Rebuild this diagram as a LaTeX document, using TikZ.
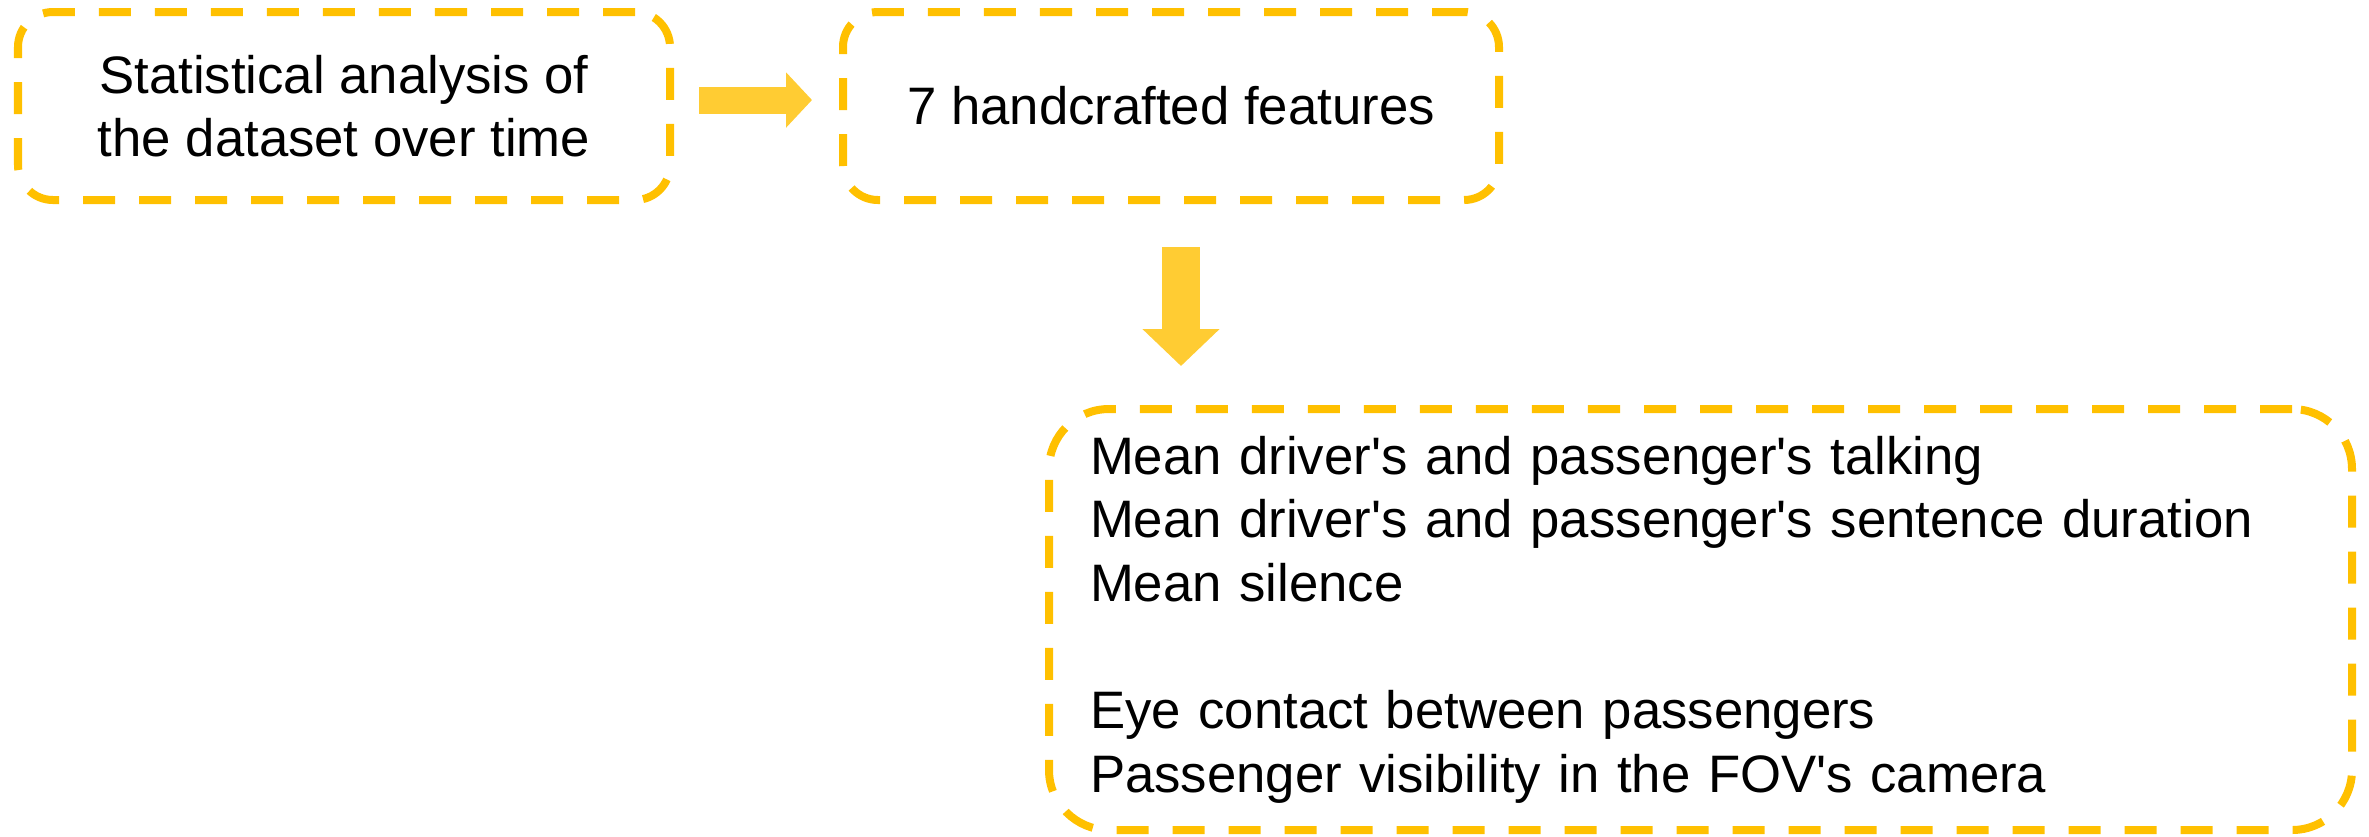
\documentclass[tikz,border=0pt]{standalone}
\usepackage{fontspec}
\setmainfont{Liberation Sans}
\usetikzlibrary{arrows.meta}

\definecolor{dashgold}{RGB}{255,192,0}
\definecolor{arrowgold}{RGB}{255,204,51}

\tikzset{
	dashbox/.style={draw=dashgold, line width=0.08cm, dash pattern=on 0.32cm off 0.24cm,
		rounded corners=0.35cm, outer sep=0pt, inner sep=0pt,
		font=\fontsize{15}{18.1}\selectfont},
	blockarrow/.style={draw=arrowgold, line width=0.27cm,
		-{Triangle[width=0.54cm, length=0.26cm]}},
}

\begin{document}
\begin{tikzpicture}
			\useasboundingbox (0,0) rectangle (23.69,-8.36);

			% Блоки
			\node[dashbox, minimum width=6.52cm, minimum height=1.88cm, align=center] (stat) at (3.44,-1.06)
				{Statistical analysis of\\the dataset over time};
			\node[dashbox, minimum width=6.56cm, minimum height=1.88cm] (feat) at (11.71,-1.06)
				{7 handcrafted features};
			\node[dashbox, rounded corners=0.6cm, minimum height=4.21cm, inner xsep=0.41cm,
				text width=12.21cm, align=left] (list) at (17.005,-6.195)
				{Mean driver\textquotesingle s and passenger\textquotesingle s talking\\
				 Mean driver\textquotesingle s and passenger\textquotesingle s sentence duration\\
				 Mean silence\\
				 \mbox{}\\
				 Eye contact between passengers\\
				 Passenger visibility in the FOV\textquotesingle s camera};

			% Стрелки
			\draw[blockarrow, shorten <=0.29cm, shorten >=0.31cm]
				([yshift=0.06cm]stat.east) -- ([yshift=0.06cm]feat.west);
			\draw[blockarrow, line width=0.38cm, -{Triangle[width=0.75cm, length=0.37cm]},
				shorten <=0.47cm, shorten >=0.43cm]
				([xshift=0.10cm]feat.south) -- ([xshift=0.10cm]feat.south |- list.north);
		\end{tikzpicture}
\end{document}
